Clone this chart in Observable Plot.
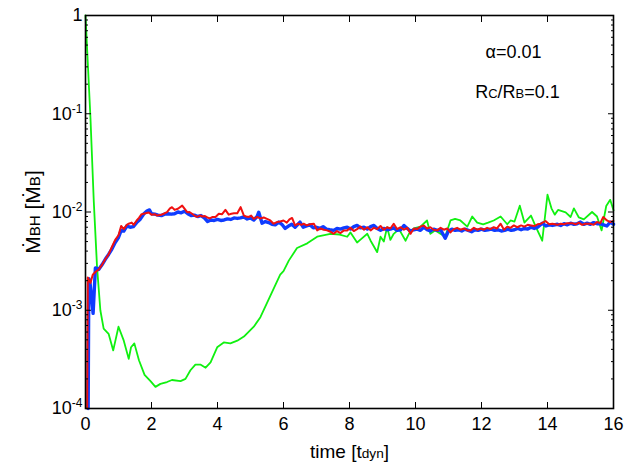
<!DOCTYPE html>
<html><head><meta charset="utf-8">
<script src="https://cdn.jsdelivr.net/npm/d3@7"></script>
<script src="https://cdn.jsdelivr.net/npm/@observablehq/plot@0.6"></script>
<style>body{margin:0;background:#fff} svg{display:block}</style>
</head><body><div id="chart"></div>
<script>
// time [t_dyn], accretion rate [Mdot_B]
const green = [[0,1.0],[0.15,0.091],[0.25,0.013],[0.35,0.00275],[0.45,0.001],[0.55,0.00065],[0.7,0.000575],[0.84,0.00039],[1.0,0.00068],[1.16,0.00049],[1.31,0.00032],[1.38,0.00042],[1.48,0.00046],[1.62,0.00031],[1.79,0.00022],[1.97,0.00019],[2.12,0.000166],[2.27,0.000178],[2.47,0.000186],[2.62,0.000195],[2.88,0.00019],[3.03,0.0002],[3.18,0.000245],[3.33,0.00028],[3.48,0.00028],[3.64,0.00026],[3.79,0.000295],[3.99,0.00042],[4.19,0.00047],[4.39,0.00046],[4.6,0.00049],[4.8,0.00054],[5.1,0.00068],[5.3,0.00085],[5.6,0.0014],[5.9,0.0023],[6.0,0.0025],[6.16,0.0032],[6.41,0.0043],[6.72,0.0048],[7.02,0.0056],[7.42,0.006],[7.7,0.0059],[7.93,0.0056],[8.03,0.0062],[8.23,0.0049],[8.35,0.0053],[8.54,0.006],[8.64,0.0051],[8.84,0.0039],[8.94,0.0056],[9.04,0.005],[9.14,0.007],[9.24,0.0052],[9.34,0.006],[9.5,0.0067],[9.7,0.0051],[9.8,0.006],[9.95,0.0068],[10.15,0.0071],[10.35,0.0082],[10.45,0.006],[10.6,0.0065],[10.9,0.0056],[11.06,0.0082],[11.2,0.0085],[11.36,0.0082],[11.57,0.0071],[11.72,0.009],[11.87,0.0078],[12.05,0.0075],[12.2,0.0078],[12.37,0.0082],[12.58,0.009],[12.78,0.0075],[12.88,0.0082],[13.0,0.008],[13.16,0.0116],[13.3,0.0078],[13.5,0.0092],[13.65,0.007],[13.84,0.0051],[14.0,0.015],[14.12,0.0109],[14.22,0.0094],[14.32,0.0105],[14.55,0.0099],[14.7,0.0089],[14.8,0.0109],[14.95,0.0088],[15.1,0.0084],[15.35,0.01],[15.5,0.009],[15.64,0.0065],[15.78,0.0115],[15.9,0.0133],[16.0,0.0104]];

const blue = [[0.08,0.0001],[0.1,0.0021],[0.13,0.002],[0.23,0.00093],[0.3,0.0027],[0.4,0.0026],[0.5,0.0029],[0.6,0.0033],[0.7,0.0037],[0.8,0.0042],[0.9,0.0049],[1.0,0.0055],[1.08,0.0065],[1.16,0.0064],[1.25,0.0072],[1.35,0.007],[1.45,0.0071],[1.55,0.0078],[1.65,0.0084],[1.77,0.0096],[1.87,0.0103],[1.94,0.0105],[2.0,0.0096],[2.1,0.0095],[2.2,0.0093],[2.3,0.0092],[2.4,0.0095],[2.5,0.0096],[2.6,0.0095],[2.7,0.0096],[2.8,0.01],[2.9,0.0098],[3.0,0.0102],[3.1,0.0096],[3.2,0.0092],[3.3,0.0093],[3.4,0.009],[3.5,0.0092],[3.6,0.0087],[3.7,0.008],[3.8,0.0083],[3.9,0.0082],[4.0,0.0084],[4.1,0.0082],[4.2,0.0083],[4.3,0.0085],[4.4,0.0084],[4.5,0.0087],[4.6,0.0086],[4.7,0.0087],[4.8,0.0089],[4.9,0.0085],[5.0,0.0087],[5.1,0.0083],[5.2,0.009],[5.25,0.00995],[5.35,0.0077],[5.45,0.008],[5.55,0.0078],[5.65,0.0075],[5.75,0.0074],[5.86,0.0079],[5.95,0.0075],[6.05,0.0068],[6.15,0.0072],[6.25,0.0075],[6.35,0.007],[6.5,0.0079],[6.6,0.007],[6.7,0.0072],[6.8,0.0074],[6.9,0.0069],[7.0,0.007],[7.1,0.0068],[7.2,0.0071],[7.3,0.0067],[7.4,0.0066],[7.52,0.0065],[7.62,0.0068],[7.73,0.0067],[7.83,0.0069],[7.93,0.007],[8.03,0.0067],[8.13,0.0071],[8.23,0.0073],[8.33,0.0069],[8.44,0.007],[8.54,0.0067],[8.64,0.0071],[8.74,0.0073],[8.84,0.0068],[8.94,0.0065],[9.04,0.0068],[9.14,0.0066],[9.24,0.0067],[9.34,0.0069],[9.44,0.0065],[9.55,0.0066],[9.65,0.0073],[9.75,0.0068],[9.85,0.0064],[9.95,0.0066],[10.05,0.0067],[10.15,0.0065],[10.25,0.007],[10.35,0.0066],[10.45,0.0064],[10.55,0.0067],[10.66,0.0065],[10.76,0.0066],[10.9,0.0054],[11.0,0.0064],[11.1,0.0067],[11.2,0.0065],[11.3,0.0066],[11.4,0.0064],[11.5,0.0067],[11.6,0.0065],[11.7,0.0063],[11.8,0.0066],[11.9,0.0065],[12.0,0.0067],[12.1,0.0065],[12.2,0.0066],[12.3,0.0067],[12.4,0.0065],[12.5,0.0066],[12.6,0.0064],[12.7,0.0065],[12.8,0.0067],[12.9,0.0065],[13.0,0.0066],[13.1,0.0068],[13.2,0.0066],[13.3,0.0068],[13.4,0.0067],[13.5,0.007],[13.6,0.0068],[13.7,0.007],[13.84,0.0077],[13.95,0.0072],[14.05,0.0074],[14.15,0.0073],[14.3,0.0075],[14.4,0.0073],[14.5,0.0076],[14.6,0.0074],[14.7,0.0077],[14.8,0.0075],[14.9,0.0076],[15.0,0.0079],[15.1,0.0075],[15.2,0.0077],[15.3,0.0075],[15.4,0.0078],[15.5,0.0076],[15.6,0.0076],[15.7,0.0074],[15.8,0.0072],[15.9,0.0079],[16.0,0.0075]];

const red = [[0.05,0.0001],[0.07,0.00215],[0.15,0.0019],[0.22,0.0023],[0.3,0.00245],[0.4,0.0026],[0.5,0.0029],[0.6,0.0033],[0.7,0.0037],[0.8,0.0044],[0.9,0.0052],[1.0,0.0058],[1.08,0.0072],[1.16,0.0067],[1.25,0.0074],[1.31,0.0076],[1.4,0.0078],[1.46,0.0074],[1.55,0.0082],[1.62,0.0087],[1.7,0.0095],[1.82,0.0097],[1.92,0.0099],[2.0,0.0094],[2.1,0.0095],[2.17,0.0092],[2.27,0.0093],[2.37,0.0096],[2.47,0.00995],[2.56,0.0109],[2.62,0.0112],[2.7,0.0105],[2.8,0.0108],[2.93,0.0116],[3.0,0.0108],[3.08,0.00995],[3.15,0.01],[3.23,0.0096],[3.3,0.0092],[3.38,0.0089],[3.47,0.0092],[3.55,0.009],[3.62,0.0091],[3.69,0.0088],[3.77,0.0086],[3.84,0.0089],[3.94,0.0089],[4.04,0.0096],[4.14,0.0095],[4.24,0.0105],[4.34,0.0094],[4.42,0.0096],[4.5,0.0097],[4.6,0.0097],[4.7,0.0112],[4.8,0.0092],[4.87,0.009],[4.95,0.0089],[5.02,0.0092],[5.1,0.0085],[5.2,0.0089],[5.3,0.0086],[5.4,0.0088],[5.5,0.0085],[5.6,0.0082],[5.7,0.0076],[5.8,0.0079],[5.9,0.008],[6.0,0.0082],[6.1,0.0078],[6.18,0.0084],[6.26,0.0087],[6.35,0.0073],[6.45,0.0076],[6.55,0.0074],[6.61,0.0076],[6.7,0.0073],[6.8,0.0075],[6.92,0.0076],[7.02,0.0065],[7.12,0.0068],[7.22,0.0066],[7.32,0.0065],[7.42,0.0063],[7.52,0.006],[7.62,0.0064],[7.73,0.0061],[7.83,0.0065],[7.93,0.0065],[8.03,0.0069],[8.13,0.0064],[8.23,0.0067],[8.33,0.0071],[8.44,0.0066],[8.54,0.007],[8.64,0.0065],[8.74,0.0069],[8.84,0.0067],[8.94,0.0072],[9.04,0.0066],[9.14,0.007],[9.24,0.0068],[9.34,0.0076],[9.44,0.0067],[9.55,0.007],[9.65,0.0066],[9.75,0.0069],[9.85,0.006],[9.95,0.0068],[10.05,0.0067],[10.15,0.0071],[10.25,0.0073],[10.35,0.0068],[10.45,0.007],[10.55,0.0066],[10.66,0.0065],[10.76,0.0069],[10.86,0.0066],[10.96,0.0068],[11.06,0.0062],[11.16,0.0067],[11.26,0.0069],[11.36,0.0066],[11.47,0.0068],[11.57,0.0065],[11.67,0.0065],[11.77,0.0069],[11.87,0.0066],[11.97,0.0068],[12.07,0.0066],[12.17,0.0069],[12.27,0.0067],[12.37,0.007],[12.47,0.0068],[12.58,0.0076],[12.68,0.0066],[12.78,0.0071],[12.88,0.0069],[12.98,0.0073],[13.08,0.007],[13.2,0.0073],[13.3,0.0071],[13.4,0.0074],[13.5,0.0073],[13.6,0.0072],[13.7,0.0075],[13.8,0.0076],[13.94,0.0081],[14.05,0.0075],[14.15,0.0076],[14.3,0.0074],[14.4,0.0076],[14.5,0.0075],[14.6,0.0077],[14.75,0.0077],[14.85,0.0075],[14.95,0.0078],[15.05,0.0074],[15.15,0.0076],[15.3,0.0076],[15.4,0.0074],[15.5,0.0079],[15.6,0.0077],[15.69,0.0089],[15.8,0.0082],[15.9,0.0079],[16.0,0.0081]];

const xTicks = [0, 2, 4, 6, 8, 10, 12, 14, 16];
const yMajor = [1e-4, 1e-3, 1e-2, 1e-1, 1];
const yMajorLabels = ["10^{-4}", "10^{-3}", "10^{-2}", "10^{-1}", "1"];
const yMinor = [1e-4, 1e-3, 1e-2, 1e-1].flatMap(d => [2,3,4,5,6,7,8,9].map(m => m * d));
const annotations = ["α=0.01", "R_{C}/R_{B}=0.1"];
const xLabel = "time [t_{dyn}]";
const yLabel = "Ṁ_{BH} [Ṁ_{B}]";

const font = "'Liberation Sans', Arial, Helvetica, sans-serif";
const fmtY = d => yMajorLabels[yMajor.findIndex(v => Math.abs(v - d) / d < 1e-6)];

const chart = Plot.plot({
  width: 641, height: 463,
  marginLeft: 85, marginRight: 28, marginTop: 15, marginBottom: 55,
  style: {fontFamily: font, fontSize: "18px", color: "#000", background: "#fff"},
  x: {domain: [0, 16]},
  y: {type: "log", domain: [1e-4, 1]},
  marks: [
    Plot.line(green, {x: d => d[0], y: d => d[1], stroke: "#10f010", strokeWidth: 1.8}),
    Plot.line(blue, {x: d => d[0], y: d => d[1], stroke: "#0f3cff", strokeWidth: 3.4}),
    Plot.line(red, {x: d => d[0], y: d => d[1], stroke: "#f01010", strokeWidth: 2}),
    Plot.axisX(xTicks, {anchor: "bottom", tickSize: -6, tickPadding: 15, fontSize: 18, label: null}),
    Plot.axisX(xTicks, {anchor: "top", tickSize: -6, fill: "none", label: null}),
    Plot.axisY(yMajor, {anchor: "left", tickSize: -6, tickPadding: 9, tickFormat: fmtY, fontSize: 18, label: null}),
    Plot.axisY(yMajor, {anchor: "right", tickSize: -6, fill: "none", label: null}),
    Plot.axisY(yMinor, {anchor: "left", tickSize: -3, fill: "none", label: null}),
    Plot.axisY(yMinor, {anchor: "right", tickSize: -3, fill: "none", label: null}),
    Plot.frame({stroke: "#000", strokeWidth: 1.6}),
    Plot.text([annotations[0]], {frameAnchor: "top-right", dx: -100, dy: 37, textAnchor: "middle", lineAnchor: "middle", fontSize: 18}),
    Plot.text([annotations[1]], {frameAnchor: "top-right", dx: -96, dy: 77, textAnchor: "middle", lineAnchor: "middle", fontSize: 18}),
    Plot.text([xLabel], {frameAnchor: "bottom", dy: 43, textAnchor: "middle", lineAnchor: "middle", fontSize: 19}),
    Plot.text([yLabel], {frameAnchor: "left", dx: -52, rotate: -90, textAnchor: "middle", lineAnchor: "middle", fontSize: 21})
  ]
});

// rich text: ^{..} superscript, _{..} small letters on the baseline
d3.select(chart).selectAll("text").each(function() {
  const el = this;
  const s = el.textContent;
  if (!/[\^_]\{/.test(s)) return;
  const parts = s.split(/([\^_]\{[^}]*\})/).filter(p => p.length);
  while (el.firstChild) el.removeChild(el.firstChild);
  let raised = false;
  for (const p of parts) {
    const t = document.createElementNS("http://www.w3.org/2000/svg", "tspan");
    if (p.startsWith("^{")) {
      t.textContent = p.slice(2, -1);
      t.setAttribute("font-size", "12");
      t.setAttribute("dy", "-7");
      raised = true;
    } else if (p.startsWith("_{")) {
      t.textContent = p.slice(2, -1);
      t.setAttribute("font-size", "0.72em");
      if (raised) { t.setAttribute("dy", "7"); raised = false; }
    } else {
      t.textContent = p;
      if (raised) { t.setAttribute("dy", "7"); raised = false; }
    }
    el.appendChild(t);
  }
});

document.getElementById("chart").appendChild(chart);
</script>
</body></html>
